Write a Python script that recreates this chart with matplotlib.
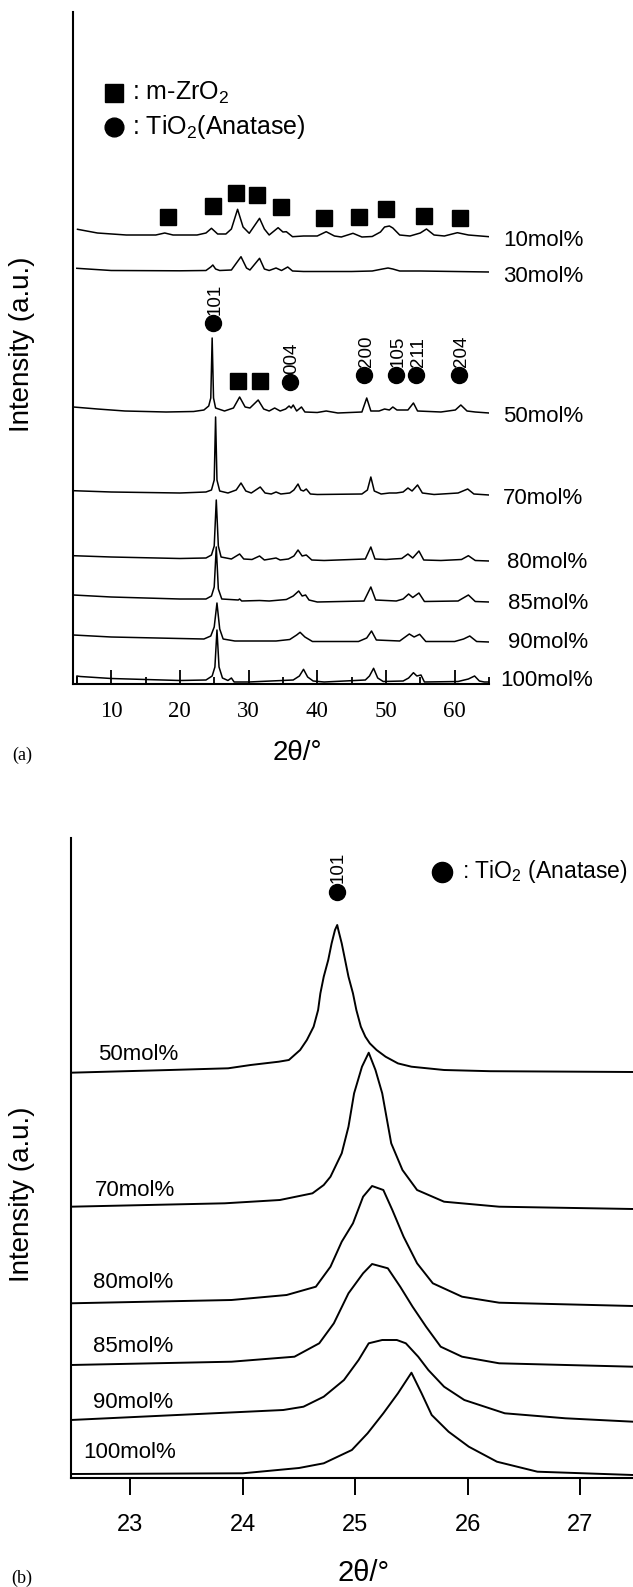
import numpy as np
import matplotlib as mpl
mpl.use('Agg')
import matplotlib.pyplot as plt

plt.rcParams['font.family'] = ['Liberation Sans', 'DejaVu Sans']
plt.rcParams['mathtext.fontset'] = 'custom'
plt.rcParams['mathtext.rm'] = 'Liberation Sans'
plt.rcParams['mathtext.it'] = 'Liberation Sans:italic'
plt.rcParams['mathtext.bf'] = 'Liberation Sans:bold'

W, H = 633, 1587

# ---------------- panel (a): wide scan, 2theta 5-65 ----------------
a_labels = ['10mol%', '30mol%', '50mol%', '70mol%', '80mol%', '85mol%', '90mol%', '100mol%']
a_offsets = [447, 412, 271, 189, 123, 82, 42, 2]

a_x10 = [5.1, 8, 12.2, 16.5, 17.8, 19, 22.5, 23.8, 24.6, 25.5, 26.7, 27.5, 28.4, 29.2, 30.1, 31.6, 32.3,
         33.0, 34.3, 35.0, 35.5, 36.4, 38, 40, 41.3, 42.5, 43.5, 45.2, 46.5, 48, 49.2, 49.8, 50.5, 51.0,
         52.0, 53.5, 55.0, 55.9, 57, 58.5, 60.4, 62, 65]
a_y10 = [7.7, 4, 2, 2, 4, 2, 2, 4, 8.7, 3, 3, 8, 27.7, 10, 3.7, 18.7, 8,
         2, 9.3, 5, 5.3, 0.3, 1, 1, 5.3, 1, 0, 3.7, 0, 0.5, 5, 10, 11, 9,
         2, 1, 4, 8, 2, 1, 4.3, 2, 0.3]

a_x30 = [5, 10, 20, 23.8, 24.5, 24.8, 25.2, 25.8, 27.5, 28.9, 29.7, 30.2, 31.6, 32.3, 33.0, 34.0, 34.8,
         35.7, 36.4, 38, 45, 48, 49.5, 50.3, 51.0, 52, 55, 60, 65]
a_y30 = [3.7, 1.5, 1.2, 1.5, 5, 7, 3, 1.5, 2, 15.3, 4, 2, 13.7, 3, 1.5, 4, 1.5,
         5, 1, 0.5, 0.5, 1, 3, 4, 3, 1, 1, 0.5, 0]

a_x50 = [4.5, 8, 12, 18, 22, 23.5, 24.2, 24.5, 24.7, 24.9, 25.2, 26.5, 27.8, 28.7, 29.5, 30.2, 31.4,
         32.2, 33.0, 33.8, 34.6, 35.4, 35.9, 36.2, 36.5, 37.0, 37.7, 38.2, 40, 41.3, 43, 46.5, 47.2,
         47.8, 49.0, 49.8, 50.5, 51.0, 51.6, 53.2, 54.0, 54.6, 58, 60.1, 60.9, 61.8, 63, 65]
a_y50 = [6, 4, 2, 1, 1.5, 3, 7, 15, 75, 15, 5, 2, 5, 16, 6, 5, 13,
         4, 2, 5, 2, 4, 7, 5, 8, 2, 6, 1, 0.5, 2, 0, 1, 15,
         2, 2, 4, 3, 6, 3, 3, 10, 2, 1, 3, 8, 2, 1, 0]

a_x70 = [4.5, 10, 20, 23.8, 24.6, 25.0, 25.2, 25.4, 25.8, 27, 28.2, 28.9, 29.6, 30.4, 31.7, 32.4, 33.3,
         34.0, 34.7, 36.0, 36.6, 37.2, 37.6, 38.0, 38.4, 39.0, 40, 46.5, 47.3, 47.8, 48.3, 49.3, 50.5,
         51.5, 52.5, 53.2, 53.8, 54.6, 55.3, 57, 60.5, 61.9, 62.8, 65]
a_y70 = [4.3, 3, 2, 3, 5, 15, 78, 15, 4, 2, 5, 12, 4, 2, 8, 2, 1,
         3, 1, 2, 5, 11, 5, 4, 6, 1, 0.5, 1, 5, 18, 4, 1, 2,
         2, 3, 7, 4, 10, 2, 0.5, 2, 6, 1, 0]

a_x80 = [4.5, 10, 20, 23.8, 24.6, 25.0, 25.3, 25.6, 26.0, 27.5, 28.7, 29.3, 30.5, 31.6, 32.3, 34.0,
         34.6, 35.8, 36.6, 37.2, 37.8, 38.4, 39.2, 41, 47.0, 47.8, 48.4, 50, 51, 52.3, 53.2, 53.9,
         54.8, 55.5, 58, 61.0, 62.0, 63.0, 65]
a_y80 = [5.3, 4, 2.5, 3, 6, 15, 61, 15, 4, 2, 7, 2, 1.5, 5, 1, 3,
         1, 2, 5, 11, 5, 6, 1, 0.5, 2, 14, 2, 1.5, 2, 2.5, 7, 3,
         10, 1, 0.5, 1.5, 5.3, 0.5, 0]

a_x85 = [4.5, 10, 20, 23.8, 24.6, 25.0, 25.3, 25.6, 26.1, 28.5, 28.7, 29, 31.6, 33, 35.5, 36.5, 37.3,
         37.8, 38.3, 38.8, 40, 46.8, 47.8, 48.5, 51.5, 52.5, 53.3, 53.9, 54.8, 55.6, 60.5, 62.0, 63.0, 65]
a_y85 = [7, 5, 3, 3, 6, 15, 55, 13, 3, 2, 3, 1, 1.5, 1, 2.5, 6, 11,
         6, 7, 2, 0, 1, 15, 2, 1, 3, 8, 4.5, 9, 0.5, 1, 7, 0.5, 0]

a_x90 = [4.5, 10, 20, 23.5, 24.5, 25.0, 25.4, 25.8, 26.3, 28, 34, 36.0, 37.0, 37.5, 38.2, 39.3, 46,
         47.2, 47.9, 48.6, 52, 53.4, 54.1, 54.9, 55.8, 60, 61.3, 62.2, 63.2, 65]
a_y90 = [7, 5, 3.5, 3, 6, 15, 39, 13, 3, 1, 1, 2.5, 7, 9.7, 5, 0.5, 0.5,
         4, 11, 2, 1, 8, 5, 7.7, 0.5, 0.5, 3, 6, 0.5, 0]

a_x100 = [5.0, 5.0, 5.5, 10, 15, 20, 23.8, 24.7, 25.1, 25.4, 25.7, 26.2, 27.0, 27.5, 27.9, 30, 36.5,
          37.4, 38.0, 38.6, 39.4, 41, 47.0, 47.6, 48.2, 48.8, 49.6, 52.5, 53.3, 54.0, 54.5, 55.1, 55.6,
          60.5, 62.0, 62.9, 63.6, 64.3, 65]
a_y100 = [-2, 6, 5.5, 3.5, 2.5, 1.5, 2, 6, 15, 52, 15, 4, 1.5, 4, 0, 0, 2,
          6, 12.7, 5, 1, 0, 2, 6, 13.7, 4, 0.5, 1, 4, 9.3, 6, 7, 0,
          0.5, 3, 6, 1, 0, 0]

a_xs = [a_x10, a_x30, a_x50, a_x70, a_x80, a_x85, a_x90, a_x100]
a_ys = [a_y10, a_y30, a_y50, a_y70, a_y80, a_y85, a_y90, a_y100]

# peak assignments
zro2_top = [18.2, 24.8, 28.2, 31.3, 34.7, 41.0, 46.1, 50.0, 55.5, 60.8]
zro2_mid = [28.5, 31.7]
tio2_pos = [24.78, 36.0, 46.8, 51.5, 54.4, 60.7]
tio2_hkl = ['101', '004', '200', '105', '211', '204']

# ---------------- panel (b): 101 reflection, 2theta 22.5-27.5 ----------------
b_labels = ['50mol%', '70mol%', '80mol%', '85mol%', '90mol%', '100mol%']
b_offsets = [405.3, 269, 172, 111.3, 56.3, 3]

b_x50 = [22.47, 23.35, 23.87, 24.07, 24.32, 24.41, 24.51, 24.57, 24.63, 24.67, 24.69, 24.72, 24.76,
         24.79, 24.82, 24.84, 24.85, 24.88, 24.91, 24.94, 24.98, 25.01, 25.05, 25.09, 25.13, 25.19,
         25.27, 25.38, 25.50, 25.79, 26.2, 27.47]
b_y50 = [0, 2.7, 4.4, 7.7, 11, 12.7, 22.7, 32.7, 46, 62.7, 79.3, 96, 112.7,
         129.3, 142.7, 147.7, 142.7, 129.3, 112.7, 96, 79.3, 62.7, 46, 36, 29.3, 22.7,
         16, 9.3, 6, 2.7, 1.5, 0.7]

b_x70 = [22.47, 23.84, 24.33, 24.62, 24.72, 24.78, 24.88, 24.94, 24.99, 25.06, 25.12, 25.18, 25.24,
         25.32, 25.42, 25.55, 25.79, 26.28, 27.47]
b_y70 = [2.3, 5.7, 9, 15.7, 24, 32.3, 55.7, 82.3, 115.7, 142.3, 156.3, 139, 115.7,
         65.7, 39, 19, 7.3, 2.3, 0]

b_x80 = [22.47, 23.9, 24.39, 24.65, 24.78, 24.88, 24.98, 25.07, 25.15, 25.25, 25.33, 25.43, 25.55,
         25.69, 25.95, 26.28, 27.47]
b_y80 = [2.7, 6, 11, 19.3, 39.3, 64.3, 82.7, 109.3, 120, 116, 96, 69.3, 42.7,
         22.7, 9.3, 3.3, 0]

b_x85 = [22.47, 23.9, 24.46, 24.68, 24.81, 24.94, 25.07, 25.15, 25.29, 25.40, 25.51, 25.63, 25.76,
         25.95, 26.28, 27.47]
b_y85 = [1.7, 5, 10, 23.4, 43.4, 73.4, 93.4, 102.7, 98.4, 80, 60, 40, 20,
         10, 3.4, 0]

b_x90 = [22.47, 24.36, 24.54, 24.72, 24.90, 25.03, 25.12, 25.24, 25.37, 25.45, 25.56, 25.65, 25.79,
         25.97, 26.33, 26.87, 27.47]
b_y90 = [1.7, 11.7, 15, 25, 41.7, 61.7, 78.4, 81.7, 81.7, 78.4, 65, 51.7, 35,
         21.7, 8.4, 3.4, 0]

b_x100 = [22.47, 24.0, 24.5, 24.72, 24.97, 25.11, 25.25, 25.38, 25.50, 25.59, 25.68, 25.83, 26.01,
          26.26, 26.62, 27.47]
b_y100 = [1, 1.7, 7, 11.7, 25, 41.7, 61.7, 81.7, 102.3, 81.7, 60, 43.3, 28.3,
          13.3, 3.3, 0]

b_xs = [b_x50, b_x70, b_x80, b_x85, b_x90, b_x100]
b_ys = [b_y50, b_y70, b_y80, b_y85, b_y90, b_y100]
b_peak = 24.84


def fx(px):
    return px / float(W)


def fy(py):
    return 1.0 - py / float(H)


fig = plt.figure(figsize=(W / 100.0, H / 100.0), dpi=100)
fig.patch.set_facecolor('white')

# ================= panel (a) =================
axa = fig.add_axes([fx(72.7), fy(684), fx(489) - fx(72.7), fy(12) - fy(684)])
axa.set_xlim(4.4, 65)
axa.set_ylim(0, 672)
for x, y, off in zip(a_xs, a_ys, a_offsets):
    axa.plot(x, np.array(y) + off, color='k', lw=1.1, solid_joinstyle='round')

axa.spines['top'].set_visible(False)
axa.spines['right'].set_visible(False)
axa.spines['left'].set_linewidth(1.5)
axa.spines['bottom'].set_linewidth(1.5)
axa.set_yticks([])
axa.set_xticks([10, 20, 30, 40, 50, 60])
axa.set_xticks([5, 15, 25, 35, 45, 55, 65], minor=True)
axa.tick_params(axis='x', which='major', direction='in', length=10, width=1.3, pad=12,
                labelsize=16.5, labelfontfamily='Liberation Serif')
axa.tick_params(axis='x', which='minor', direction='in', length=5, width=1.3)

# peak markers, panel a (y in pixel rows -> data value = 684 - row)
sq_rows = [217.3, 205.7, 193.3, 195, 207.3, 218.3, 216.7, 209.3, 216, 218.3]
axa.plot(zro2_top, [684 - r for r in sq_rows], 's', color='k', ms=11.5, clip_on=False)
axa.plot(zro2_mid, [684 - 380.7] * len(zro2_mid), 's', color='k', ms=11.5, clip_on=False)
circ_rows = [323, 381.7, 375, 375, 375, 375]
axa.plot(tio2_pos, [684 - r for r in circ_rows], 'o', color='k', ms=11.5, clip_on=False)
for pos, hkl, r in zip(tio2_pos, tio2_hkl, circ_rows):
    axa.text(pos + 0.3, 684 - r + 8, hkl, rotation=90, ha='center', va='bottom', fontsize=13.5)

a_lab_pos = [(503, 240), (503, 276), (503, 416), (503, 498), (507, 563), (508, 604), (508, 643), (500, 680)]
for lab, (px, py) in zip(a_labels, a_lab_pos):
    fig.text(fx(px), fy(py), lab, ha='left', va='center', fontsize=16)

# legend (a)
fig.add_artist(plt.Line2D([fx(114.3)], [fy(93.3)], marker='s', color='k', ms=13, ls=''))
fig.add_artist(plt.Line2D([fx(114.3)], [fy(126.7)], marker='o', color='k', ms=13.5, ls=''))
fig.text(fx(131.7), fy(93.3), r': m-ZrO$_2$', ha='left', va='center', fontsize=18)
fig.text(fx(131.7), fy(126.7), r': TiO$_2$(Anatase)', ha='left', va='center', fontsize=18)

fig.text(fx(22), fy(344), 'Intensity (a.u.)', rotation=90, ha='center', va='center', fontsize=20)
fig.text(fx(297.5), fy(753), '2θ/°', ha='center', va='center', fontsize=20)
fig.text(fx(22), fy(755), '(a)', ha='center', va='center', fontsize=13, family='Liberation Serif')

# ================= panel (b) =================
axb = fig.add_axes([fx(70.7), fy(1478), 1.0 - fx(70.7), fy(838) - fy(1478)])
axb.set_xlim(22.47, 27.47)
axb.set_ylim(0, 640)
for x, y, off in zip(b_xs, b_ys, b_offsets):
    axb.plot(x, np.array(y) + off, color='k', lw=1.4, solid_joinstyle='round')

axb.spines['top'].set_visible(False)
axb.spines['right'].set_visible(False)
axb.spines['left'].set_linewidth(1.5)
axb.spines['bottom'].set_linewidth(1.5)
axb.set_yticks([])
axb.set_xticks([23, 24, 25, 26, 27])
axb.tick_params(axis='x', direction='out', length=12, width=1.4, pad=14, labelsize=17)

axb.plot([b_peak], [1478 - 892], 'o', color='k', ms=11.5, clip_on=False)
axb.text(b_peak + 0.01, 1478 - 892 + 9, '101', rotation=90, ha='center', va='bottom', fontsize=13.5)

b_lab_pos = [(98, 1055), (95, 1190), (93, 1283), (93, 1347), (93, 1402), (83, 1452)]
for lab, (px, py) in zip(b_labels, b_lab_pos):
    fig.text(fx(px), fy(py), lab, ha='left', va='center', fontsize=16)

fig.add_artist(plt.Line2D([fx(441.7)], [fy(872)], marker='o', color='k', ms=14.5, ls=''))
fig.text(fx(462), fy(872), r': TiO$_2$ (Anatase)', ha='left', va='center', fontsize=16.5)

fig.text(fx(22), fy(1194), 'Intensity (a.u.)', rotation=90, ha='center', va='center', fontsize=20)
fig.text(fx(364), fy(1573), '2θ/°', ha='center', va='center', fontsize=21)
fig.text(fx(22), fy(1578), '(b)', ha='center', va='center', fontsize=13, family='Liberation Serif')

fig.savefig('out.png', dpi=100)
plt.close()
